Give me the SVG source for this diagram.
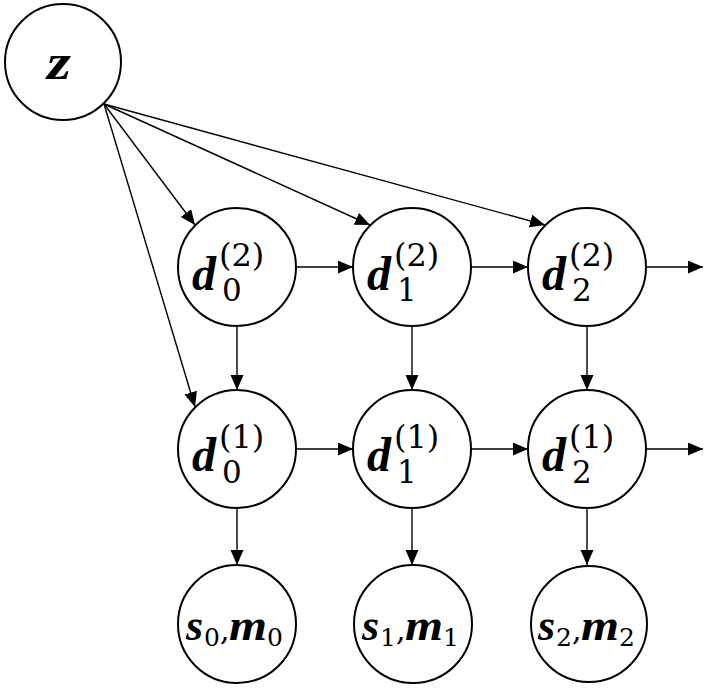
<svg xmlns="http://www.w3.org/2000/svg" width="709" height="690" viewBox="0 0 709 690">
<style>
.node{fill:#fff;stroke:#000;stroke-width:2}
.edge{stroke:#000;stroke-width:1.4;fill:none;marker-end:url(#ah)}
.v{font-family:"Liberation Serif","DejaVu Serif",serif;font-weight:bold;font-style:italic;fill:#000}
.n{font-family:"DejaVu Serif","Liberation Serif",serif;fill:#000}
.d{font-size:48px}
.sup{font-size:32px}
.sub{font-size:31px}
.ssub{font-size:25px}
</style>
<defs>
<marker id="ah" markerUnits="userSpaceOnUse" markerWidth="16" markerHeight="14" refX="15" refY="6.5" orient="auto">
<path d="M0,0 L15,6.5 L0,13 Z" fill="#000"/>
</marker>
</defs>
<rect width="709" height="690" fill="#fff"/>
<g id="connectors">
<line class="edge" x1="104" y1="104" x2="195" y2="225"/>
<line class="edge" x1="104" y1="104" x2="370" y2="225"/>
<line class="edge" x1="104" y1="104" x2="545" y2="225"/>
<line class="edge" x1="104" y1="104" x2="195" y2="407"/>
<line class="edge" x1="296" y1="267" x2="353" y2="267"/>
<line class="edge" x1="471" y1="267" x2="528" y2="267"/>
<line class="edge" x1="646" y1="267" x2="703" y2="267"/>
<line class="edge" x1="296" y1="449" x2="353" y2="449"/>
<line class="edge" x1="471" y1="449" x2="528" y2="449"/>
<line class="edge" x1="646" y1="449" x2="703" y2="449"/>
<line class="edge" x1="237" y1="326" x2="237" y2="390"/>
<line class="edge" x1="412" y1="326" x2="412" y2="390"/>
<line class="edge" x1="587" y1="326" x2="587" y2="390"/>
<line class="edge" x1="237" y1="508" x2="237" y2="565"/>
<line class="edge" x1="412" y1="508" x2="412" y2="565"/>
<line class="edge" x1="587" y1="508" x2="587" y2="565"/>
</g>
<g id="z">
<circle class="node" cx="63" cy="62" r="58"/>
<text class="v" x="47" y="79" font-size="50" textLength="24" lengthAdjust="spacingAndGlyphs">z</text>
</g>
<g id="d0_2">
<circle class="node" cx="237" cy="267" r="59"/>
<text class="v d" x="192" y="290">d</text>
<text class="n sup" x="219" y="266">(2)</text>
<text class="n sub" x="222" y="301">0</text>
</g>
<g id="d1_2">
<circle class="node" cx="412" cy="267" r="59"/>
<text class="v d" x="367" y="290">d</text>
<text class="n sup" x="394" y="266">(2)</text>
<text class="n sub" x="397" y="301">1</text>
</g>
<g id="d2_2">
<circle class="node" cx="587" cy="267" r="59"/>
<text class="v d" x="542" y="290">d</text>
<text class="n sup" x="569" y="266">(2)</text>
<text class="n sub" x="572" y="301">2</text>
</g>
<g id="d0_1">
<circle class="node" cx="237" cy="449" r="59"/>
<text class="v d" x="192" y="471">d</text>
<text class="n sup" x="219" y="448">(1)</text>
<text class="n sub" x="222" y="483">0</text>
</g>
<g id="d1_1">
<circle class="node" cx="412" cy="449" r="59"/>
<text class="v d" x="367" y="471">d</text>
<text class="n sup" x="394" y="448">(1)</text>
<text class="n sub" x="397" y="483">1</text>
</g>
<g id="d2_1">
<circle class="node" cx="587" cy="449" r="59"/>
<text class="v d" x="542" y="471">d</text>
<text class="n sup" x="569" y="448">(1)</text>
<text class="n sub" x="572" y="483">2</text>
</g>
<g id="sm0">
<circle class="node" cx="237" cy="624" r="59"/>
<text class="v" x="186" y="640" font-size="44">s</text>
<text class="n ssub" x="204" y="646">0</text>
<text class="n" x="220" y="640" font-size="30">,</text>
<text class="v" x="229" y="640" font-size="44" textLength="38" lengthAdjust="spacingAndGlyphs">m</text>
<text class="n ssub" x="267" y="646">0</text>
</g>
<g id="sm1">
<circle class="node" cx="413" cy="624" r="59"/>
<text class="v" x="362" y="640" font-size="44">s</text>
<text class="n ssub" x="380" y="646">1</text>
<text class="n" x="396" y="640" font-size="30">,</text>
<text class="v" x="405" y="640" font-size="44" textLength="38" lengthAdjust="spacingAndGlyphs">m</text>
<text class="n ssub" x="443" y="646">1</text>
</g>
<g id="sm2">
<circle class="node" cx="589" cy="624" r="58"/>
<text class="v" x="538" y="640" font-size="44">s</text>
<text class="n ssub" x="556" y="646">2</text>
<text class="n" x="572" y="640" font-size="30">,</text>
<text class="v" x="581" y="640" font-size="44" textLength="38" lengthAdjust="spacingAndGlyphs">m</text>
<text class="n ssub" x="619" y="646">2</text>
</g>
</svg>
